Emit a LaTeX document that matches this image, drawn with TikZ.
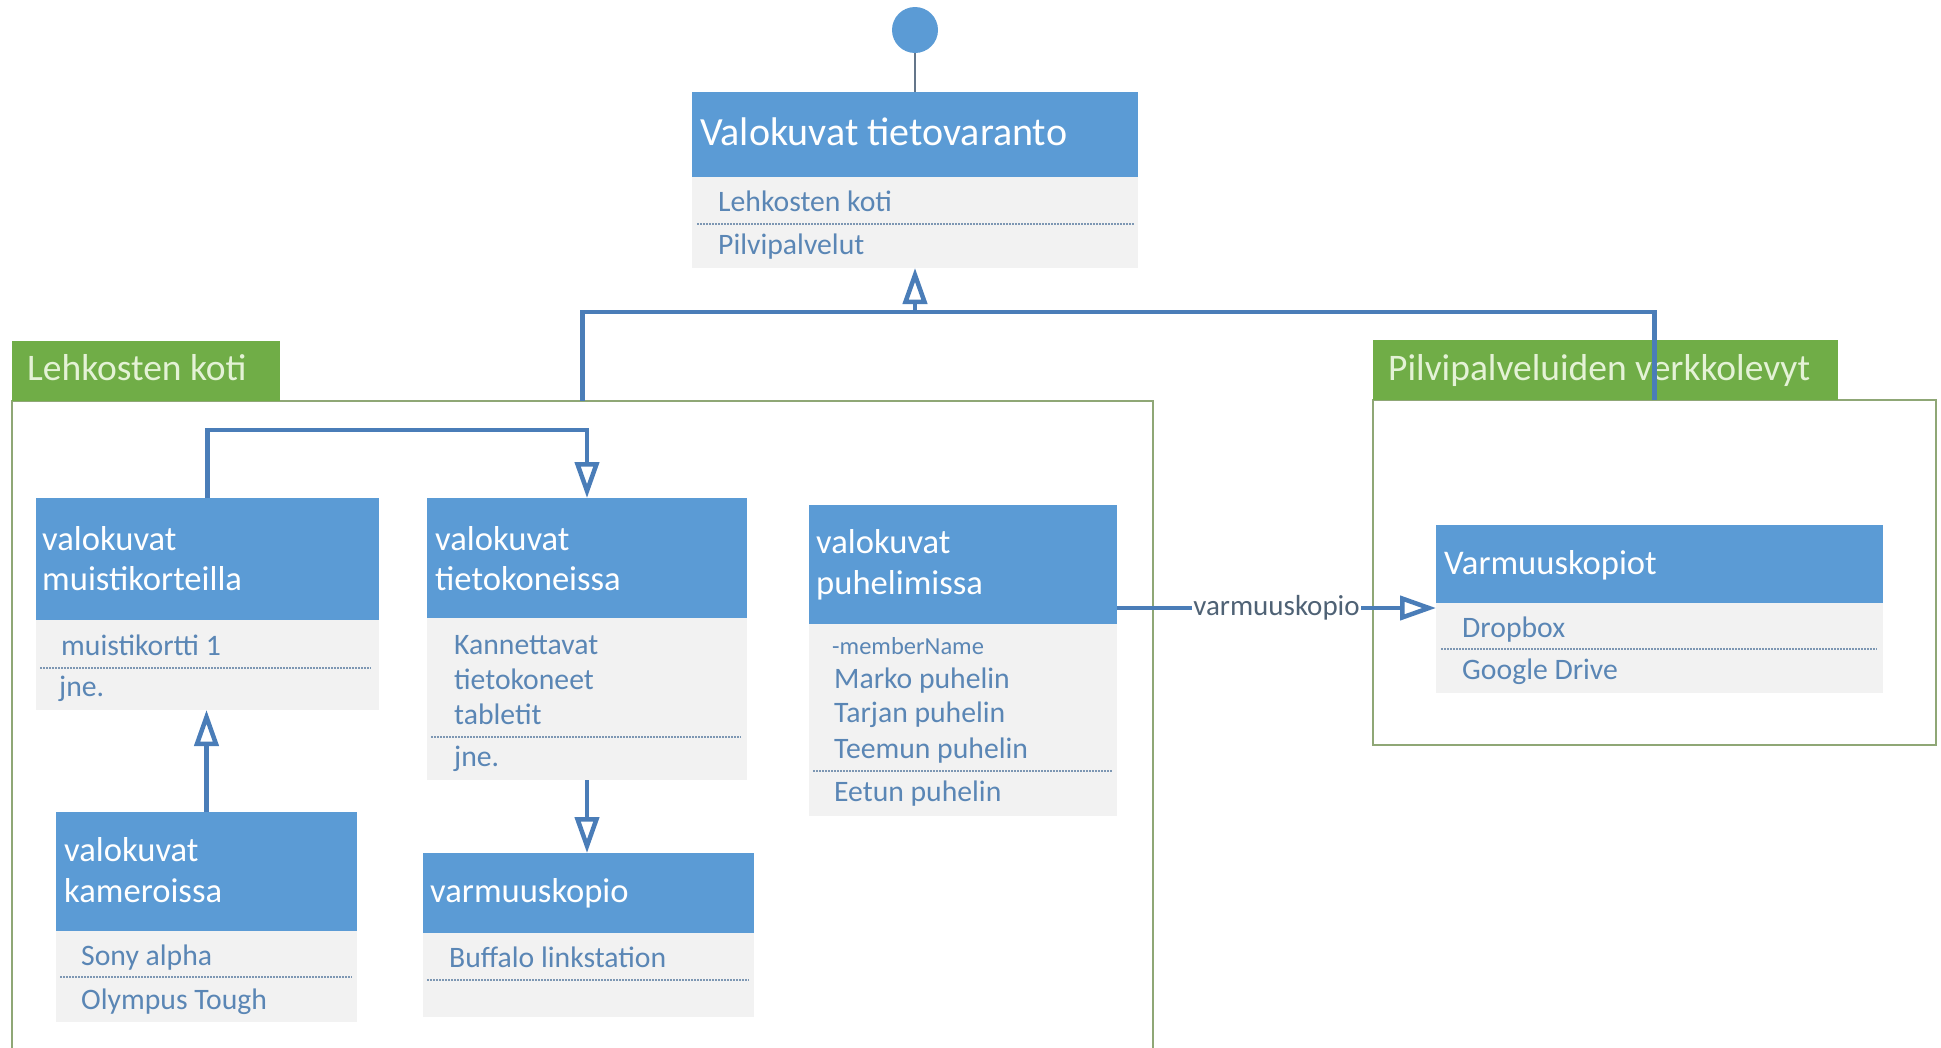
\documentclass[tikz,border=0pt]{standalone}
\usepackage{fontspec}
\setmainfont{Carlito}
\usetikzlibrary{arrows.meta}

\definecolor{hdrblue}{HTML}{5B9BD5}
\definecolor{bodygray}{HTML}{F2F2F2}
\definecolor{itemblue}{HTML}{5A86B5}
\definecolor{sepcol}{HTML}{7D97B3}
\definecolor{connblue}{HTML}{4A7DB8}
\definecolor{tagfill}{HTML}{70AD47}
\definecolor{tagtext}{HTML}{E4F2D6}
\definecolor{framecol}{HTML}{8FA776}
\definecolor{lblcol}{HTML}{4F6275}
\definecolor{stemcol}{HTML}{64768A}

\tikzset{
  hdr/.style={fill=hdrblue, draw=none, anchor=north west, inner sep=0pt, outer sep=0pt},
  bod/.style={fill=bodygray, draw=none, anchor=north west, inner sep=0pt, outer sep=0pt},
  framebox/.style={draw=framecol, line width=1.5pt, fill=none, anchor=north west, inner sep=0pt, outer sep=0pt},
  tagbox/.style={fill=tagfill, draw=none, anchor=north west, inner sep=0pt, outer sep=0pt},
  ttl/.style={text=white, anchor=base west, inner sep=0pt, font=\fontsize{34.6}{40}\selectfont},
  bigttl/.style={text=white, anchor=base west, inner sep=0pt, font=\fontsize{40}{46}\selectfont},
  itm/.style={text=itemblue, anchor=base west, inner sep=0pt, font=\fontsize{29.7}{34}\selectfont},
  smallitm/.style={text=itemblue, anchor=base west, inner sep=0pt, font=\fontsize{24.5}{28}\selectfont},
  tagtxt/.style={text=tagtext, anchor=base west, inner sep=0pt, font=\fontsize{37.5}{42}\selectfont},
  sepline/.style={draw=sepcol, line width=1.2pt, dash pattern=on 1.5pt off 1.5pt},
  conn/.style={draw=connblue, line width=4.5pt},
  gen/.style={conn, -{Triangle[length=36pt, width=24pt, fill=white]}},
  stem/.style={draw=stemcol, line width=1.6pt},
  connlbl/.style={fill=white, inner sep=1.5pt, text=lblcol, font=\fontsize{29}{34}\selectfont}
}

\begin{document}
\begin{tikzpicture}[x=1pt, y=-1pt]
\useasboundingbox (0,0) rectangle (1941,1047);
\clip (0,0) rectangle (1941,1047);

% containers with their tags
\node[framebox, minimum width=1141pt, minimum height=700pt] (homeFrame) at (12,401) {};
\node[tagbox, minimum width=268pt, minimum height=60pt] (homeTag) at (12,341) {};
\node[tagtxt] (homeTagText) at (27,380) {Lehkosten koti};

\node[framebox, minimum width=563pt, minimum height=345pt] (cloudFrame) at (1373,400) {};
\node[tagbox, minimum width=465pt, minimum height=60pt] (cloudTag) at (1373,340) {};
\node[tagtxt] (cloudTagText) at (1388,380) {Pilvipalveluiden verkkolevyt};

% root class
\node[circle, fill=hdrblue, minimum size=46pt, inner sep=0pt] (start) at (915,30) {};
\node[hdr, minimum width=446pt, minimum height=85pt] (topH) at (692,92) {};
\node[bod, minimum width=446pt, minimum height=91pt] (topB) at (692,177) {};
\node[bigttl] (topTitle) at (700,145) {Valokuvat tietovaranto};
\node[itm] (topI1) at (718,211) {Lehkosten koti};
\draw[sepline] (697,224) -- (1134,224);
\node[itm] (topI2) at (718,254) {Pilvipalvelut};

% memory cards
\node[hdr, minimum width=343pt, minimum height=122pt] (muistH) at (36,498) {};
\node[bod, minimum width=343pt, minimum height=90pt] (muistB) at (36,620) {};
\node[ttl] (muistT1) at (42,550) {valokuvat};
\node[ttl] (muistT2) at (42,590) {muistikorteilla};
\node[itm] (muistI1) at (61,655) {muistikortti 1};
\draw[sepline] (40,668) -- (371,668);
\node[itm] (muistI2) at (59,696) {jne.};

% computers
\node[hdr, minimum width=320pt, minimum height=120pt] (tietoH) at (427,498) {};
\node[bod, minimum width=320pt, minimum height=162pt] (tietoB) at (427,618) {};
\node[ttl] (tietoT1) at (435,550) {valokuvat};
\node[ttl] (tietoT2) at (435,590) {tietokoneissa};
\node[itm] (tietoI1) at (454,654) {Kannettavat};
\node[itm] (tietoI2) at (454,689) {tietokoneet};
\node[itm] (tietoI3) at (454,724) {tabletit};
\draw[sepline] (431,737) -- (741,737);
\node[itm] (tietoI4) at (454,766) {jne.};

% cameras
\node[hdr, minimum width=301pt, minimum height=119pt] (kamH) at (56,812) {};
\node[bod, minimum width=301pt, minimum height=91pt] (kamB) at (56,931) {};
\node[ttl] (kamT1) at (64,861) {valokuvat};
\node[ttl] (kamT2) at (64,902) {kameroissa};
\node[itm] (kamI1) at (81,965) {Sony alpha};
\draw[sepline] (60,977) -- (352,977);
\node[itm] (kamI2) at (81,1009) {Olympus Tough};

% local backup
\node[hdr, minimum width=331pt, minimum height=80pt] (varmH) at (423,853) {};
\node[bod, minimum width=331pt, minimum height=84pt] (varmB) at (423,933) {};
\node[ttl] (varmT) at (430,902) {varmuuskopio};
\node[itm] (varmI1) at (449,967) {Buffalo linkstation};
\draw[sepline] (427,980) -- (749,980);

% phones
\node[hdr, minimum width=308pt, minimum height=119pt] (puhH) at (809,505) {};
\node[bod, minimum width=308pt, minimum height=192pt] (puhB) at (809,624) {};
\node[ttl] (puhT1) at (816,553) {valokuvat};
\node[ttl] (puhT2) at (816,594) {puhelimissa};
\node[smallitm] (puhI0) at (832,654) {-memberName};
\node[itm] (puhI1) at (834,688) {Marko puhelin};
\node[itm] (puhI2) at (834,722) {Tarjan puhelin};
\node[itm] (puhI3) at (834,758) {Teemun puhelin};
\draw[sepline] (813,771) -- (1112,771);
\node[itm] (puhI4) at (834,801) {Eetun puhelin};

% cloud backups
\node[hdr, minimum width=447pt, minimum height=78pt] (cloudH) at (1436,525) {};
\node[bod, minimum width=447pt, minimum height=90pt] (cloudB) at (1436,603) {};
\node[ttl] (cloudT) at (1444,574) {Varmuuskopiot};
\node[itm] (cloudI1) at (1462,637) {Dropbox};
\draw[sepline] (1441,649) -- (1877,649);
\node[itm] (cloudI2) at (1462,679) {Google Drive};

% connectors
\coordinate (treeJoin) at (915,312);
\coordinate (busY) at (0,430);
\coordinate (copyY) at (0,608);

\draw[stem] (start.south) -- (topH.north);
\draw[conn] (homeFrame.north) |- (treeJoin);
\draw[conn] (cloudFrame.north) |- (treeJoin);
\draw[gen] (treeJoin) -- (topB.south);

\draw[gen] (muistH.north) -- (muistH.north |- busY) -| (tietoH.north);
\draw[gen] (kamH.north) -- (kamH.north |- muistB.south);
\draw[gen] (tietoB.south) -- (tietoB.south |- varmH.north);
\draw[gen] (puhH.east |- copyY) -- node[connlbl] (copyLbl) {varmuuskopio} (cloudB.west |- copyY);
\end{tikzpicture}
\end{document}
